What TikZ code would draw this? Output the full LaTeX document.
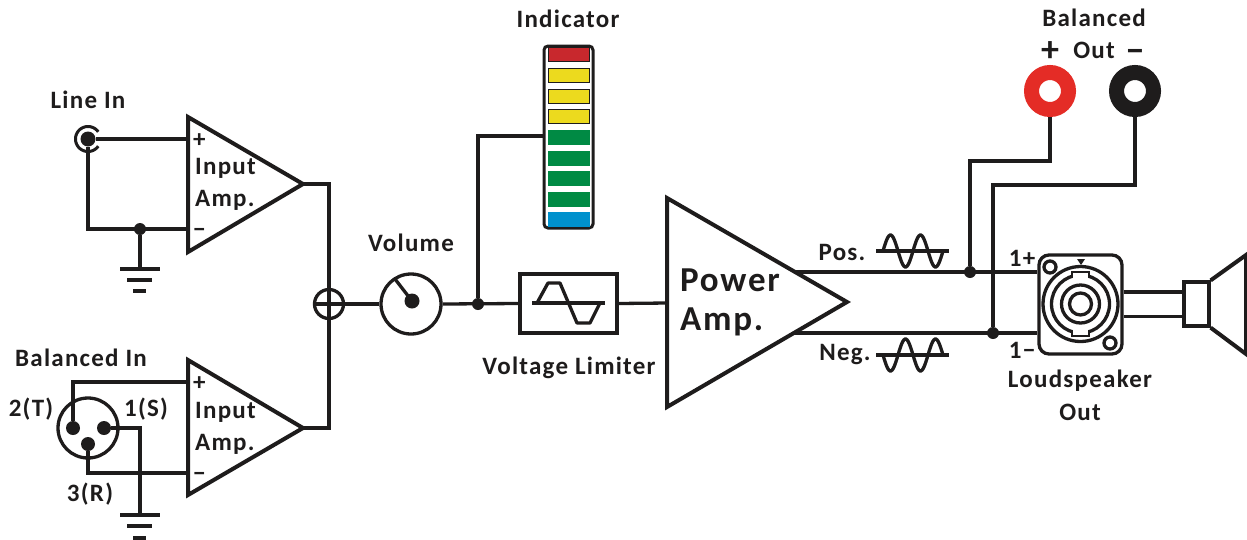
\documentclass[tikz,border=0pt]{standalone}
\usepackage{fontspec}
\setmainfont{Carlito}[LetterSpace=5]
\usepackage{tikz}
\usetikzlibrary{calc}
\usepackage{xcolor}
\definecolor{ledred}{RGB}{200,40,45}
\definecolor{ledyellow}{RGB}{236,218,30}
\definecolor{ledgreen}{RGB}{0,138,68}
\definecolor{ledblue}{RGB}{0,145,205}
\definecolor{postred}{RGB}{228,44,38}
\definecolor{inkblack}{RGB}{30,28,28}
\tikzset{
  wire/.style={line width=3.3pt, draw=inkblack, line join=miter},
  thick wire/.style={line width=4pt, draw=inkblack, line join=miter},
  dot/.style={circle, fill=inkblack, inner sep=0pt, minimum size=12pt},
  pin/.style={circle, fill=inkblack, inner sep=0pt, minimum size=14pt},
  lbl/.style={font=\fontsize{25}{27}\bfseries, text=inkblack, inner sep=0pt},
  led/.style={draw=inkblack, line width=0.8pt, minimum width=41pt, minimum height=14pt, inner sep=0pt},
  post/.style={circle, draw=#1, line width=15pt, fill=white, inner sep=0pt, minimum size=37pt}
}
\begin{document}
\begin{tikzpicture}[x=1pt,y=-1pt]
    \useasboundingbox (0,0) rectangle (1247,539);

    % input amps
    \coordinate (ampa top) at (188,117);
    \coordinate (ampa tip) at (303,184);
    \coordinate (ampa bot) at (188,252);
    \coordinate (ampa plus) at (188,139);
    \coordinate (ampa minus) at (188,229);
    \coordinate (ampb top) at (188,360);
    \coordinate (ampb tip) at (303,428);
    \coordinate (ampb bot) at (188,495);
    \coordinate (ampb plus) at (188,382);
    \coordinate (ampb minus) at (188,473);
    \draw[thick wire] (ampa top) -- (ampa tip) -- (ampa bot) -- cycle;
    \draw[thick wire] (ampb top) -- (ampb tip) -- (ampb bot) -- cycle;
    \node[lbl, anchor=west] (ampa p) at (193,141) {+};
    \node[lbl, anchor=west] (ampa n) at (193,233) {−};
    \node[lbl, anchor=west] (ampa t1) at (195,168) {Input};
    \node[lbl, anchor=west] (ampa t2) at (195,200) {Amp.};
    \node[lbl, anchor=west] (ampb p) at (193,384) {+};
    \node[lbl, anchor=west] (ampb n) at (193,477) {−};
    \node[lbl, anchor=west] (ampb t1) at (195,412) {Input};
    \node[lbl, anchor=west] (ampb t2) at (195,444) {Amp.};

    % line in
    \node[lbl] (linein) at (88,100) {Line In};
    \node[dot, minimum size=15pt] (jack) at (88,139) {};
    \draw[wire, line width=3pt] plot[domain=35:325, samples=40] ({88+12.5*cos(\x)},{139+12.5*sin(\x)});
    \coordinate (lcorner) at (88,229);
    \node[dot] (ja) at (140,229) {};
    \coordinate (ga) at (140,269);
    \draw[wire] (jack) -- (ampa plus);
    \draw[wire] (jack) -- (lcorner) -- (ampa minus);
    \draw[wire] (ja) -- (ga);
    \draw[wire] (120,269) -- (160,269);
    \draw[wire] (127,280) -- (152,280);
    \draw[wire] (133,291) -- (146,291);

    % balanced in
    \node[lbl] (balin) at (81,358) {Balanced In};
    \node[lbl] (lt) at (31,409) {2(T)};
    \node[lbl] (ls) at (146,409) {1(S)};
    \node[lbl] (lr) at (90,494) {3(R)};
    \node[circle, draw=inkblack, line width=3.3pt, minimum size=60pt, inner sep=0pt] (xlr) at (88,428) {};
    \node[pin] (p2) at (73,428) {};
    \node[pin] (p1) at (104,428) {};
    \node[pin] (p3) at (88,444) {};
    \coordinate (gb) at (140,515);
    \draw[wire] (p2) -- (73,382) -- (ampb plus);
    \draw[wire] (p1) -- (140,428) -- (gb);
    \draw[wire] (p3) -- (88,473) -- (ampb minus);
    \draw[wire] (120,515) -- (160,515);
    \draw[wire] (127,526) -- (152,526);
    \draw[wire, line width=4pt] (133,537.5) -- (146,537.5);

    % summing point and volume
    \node[circle, draw=inkblack, line width=3.3pt, minimum size=29pt, inner sep=0pt] (sum) at (329,304) {};
    \draw[wire] (sum.north) -- (sum.south);
    \draw[wire] (sum.west) -- (sum.east);
    \draw[wire] (ampa tip) -- (329,184) -- (sum.north);
    \draw[wire] (ampb tip) -- (329,428) -- (sum.south);
    \node[lbl] (vollbl) at (411,243) {Volume};
    \node[circle, draw=inkblack, line width=3.3pt, minimum size=60pt, inner sep=0pt] (vol) at (411,304) {};
    \node[circle, fill=inkblack, inner sep=0pt, minimum size=15pt] (knob) at (412,301) {};
    \draw[wire] (knob.center) -- (395,279);
    \draw[wire] (sum.east) -- (vol.west);

    % indicator
    \node[lbl] (indlbl) at (568,19) {Indicator};
    \node[draw=inkblack, line width=3pt, rounded corners=4pt, minimum width=49pt, minimum height=182pt, inner sep=0pt] (ind) at (568.5,137) {};
    \node[led, fill=ledred] (l1) at (568.5,54.5) {};
    \node[led, fill=ledyellow] (l2) at (568.5,75) {};
    \node[led, fill=ledyellow] (l3) at (568.5,96) {};
    \node[led, fill=ledyellow] (l4) at (568.5,116) {};
    \node[led, fill=ledgreen, draw=ledgreen] (l5) at (568.5,137) {};
    \node[led, fill=ledgreen, draw=ledgreen] (l6) at (568.5,158) {};
    \node[led, fill=ledgreen, draw=ledgreen] (l7) at (568.5,178) {};
    \node[led, fill=ledgreen, draw=ledgreen] (l8) at (568.5,199) {};
    \node[led, fill=ledblue, draw=ledblue] (l9) at (568.5,219.5) {};

    % limiter
    \node[dot] (jv) at (478,304) {};
    \node[draw=inkblack, line width=3.3pt, minimum width=97pt, minimum height=59pt, inner sep=0pt] (lim) at (568.5,303.5) {};
    \node[lbl] (limlbl) at (569,368) {Voltage Limiter};
    \draw[wire] (vol.east) -- (lim.west);
    \draw[wire] (jv) -- (478,136) -- (ind.west |- 478,136);
    \draw[wire] (532,303) -- (605,303);
    \draw[wire, line join=round] (537,303) -- (548,283) -- (560,283) -- (577,323) -- (590,323) -- (600,303);

    % power amp
    \coordinate (pwr top) at (667,198);
    \coordinate (pwr tip) at (847,302);
    \coordinate (pwr bot) at (667,407);
    \draw[thick wire] (pwr top) -- (pwr tip) -- (pwr bot) -- cycle;
    \draw[wire] (lim.east) -- (667,303);
    \node[lbl, anchor=west, font=\fontsize{35}{37}\bfseries] (pwr t1) at (680,280) {Power};
    \node[lbl, anchor=west, font=\fontsize{35}{37}\bfseries] (pwr t2) at (680,322) {Amp.};

    % outputs
    \node[lbl] (poslbl) at (842,252) {Pos.};
    \node[lbl] (neglbl) at (845,355) {Neg.};
    \draw[wire] (876,251) -- (949,251);
    \draw[wire] (876,355) -- (949,355);
    \draw[wire, smooth] plot[domain=0:60, samples=61] ({883+\x},{251-16*sin(12*\x)});
    \draw[wire, smooth] plot[domain=0:60, samples=61] ({883+\x},{355+16*sin(12*\x)});

    \node[lbl] (ballbl) at (1094,18) {Balanced};
    \node[lbl, font=\fontsize{36}{36}\bfseries] (outp) at (1050,52) {+};
    \node[lbl] (outlbl) at (1094,50) {Out};
    \node[lbl, font=\fontsize{36}{36}\bfseries] (outn) at (1135,56) {−};
    \node[post=postred] (rpost) at (1050,91) {};
    \node[post=inkblack] (bpost) at (1135,91) {};
    \node[dot] (jp) at (970,272) {};
    \node[dot] (jn) at (993,333) {};
    \draw[wire] (jp) -- (970,161) -- (1050,161) -- (rpost.south);
    \draw[wire] (jn) -- (993,185) -- (1135,185) -- (bpost.south);

    % speakon socket
    \node[draw=inkblack, line width=3.3pt, rounded corners=10pt, minimum width=83pt, minimum height=99pt, inner sep=0pt] (spk) at (1080.5,304.5) {};
    \draw[wire] (795,272) -- (spk.west |- 795,272);
    \draw[wire] (795,333) -- (spk.west |- 795,333);
    \node[lbl] (lp) at (1022,258) {1+};
    \node[lbl] (ln) at (1022,350) {1−};
    \node[lbl] (spklbl) at (1080,381) {Loudspeaker};
    \node[lbl] (spkout) at (1080,412) {Out};
    \draw[wire] (1080.5,304) circle[radius=37.5];
    \draw[wire] (1080.5,304) circle[radius=29];
    \draw[wire] (1080.5,304) circle[radius=19];
    \draw[wire] (1080.5,304) circle[radius=11];
    \draw[wire, line width=2.6pt, fill=white] (1072,278) -- (1072,272) -- (1089,272) -- (1089,278);
    \draw[wire, line width=2.6pt, fill=white] (1072,330) -- (1072,336) -- (1089,336) -- (1089,330);
    \draw[wire] (1050,267) circle[radius=6];
    \draw[wire] (1110,343) circle[radius=6];
    \fill[inkblack] (1077,259) -- (1085,259) -- (1081,265) -- cycle;

    % speaker
    \node[draw=inkblack, line width=3.3pt, minimum width=25pt, minimum height=44pt, inner sep=0pt] (cab) at (1196.5,304) {};
    \coordinate (cone top) at (1246,255);
    \coordinate (cone bot) at (1246,354);
    \draw[wire] (spk.east |- 1122,292) -- (cab.west |- 1122,292);
    \draw[wire] (spk.east |- 1122,316.5) -- (cab.west |- 1122,316.5);
    \draw[thick wire] (cab.north east) -- (cone top) -- (cone bot) -- (cab.south east);
\end{tikzpicture}
\end{document}
